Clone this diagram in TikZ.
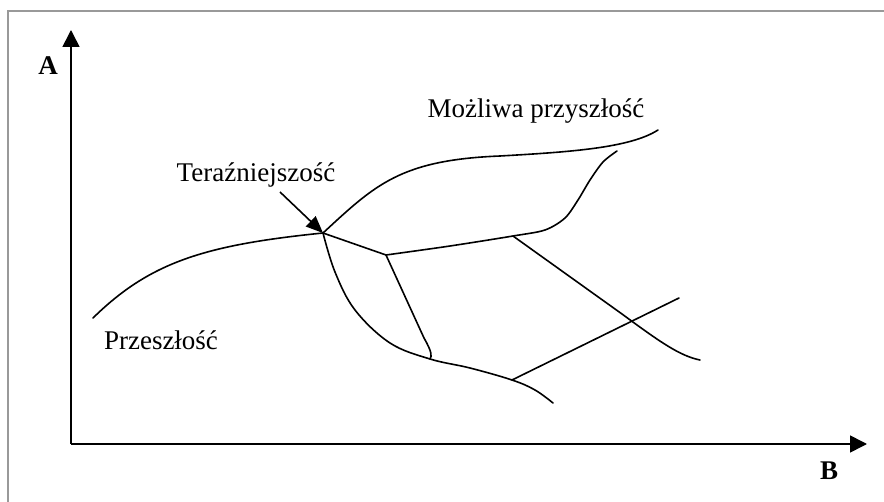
\documentclass[tikz,border=0pt]{standalone}
\usepackage{fontspec}
\setmainfont{Liberation Serif}
\usetikzlibrary{arrows.meta}
\begin{document}
\begin{tikzpicture}[x=1pt,y=-1pt,
  curve/.style={line width=1.6pt,line join=round,line cap=round},
  axis/.style={line width=1.6pt,-{Triangle[length=17pt,width=17pt]}},
  lbl/.style={anchor=base,inner sep=0pt,font=\fontsize{27}{32}\selectfont},
  axlbl/.style={anchor=base,inner sep=0pt,font=\bfseries\fontsize{27}{32}\selectfont}]
  \useasboundingbox (0,0) rectangle (884,502);
  % page frame (top and left edges only)
  \draw[gray!80,line width=1.3pt] (8,502) -- (8,11) -- (884,11);

  % axes
  \coordinate (O) at (71,444);
  \coordinate (ytip) at (71,30);
  \coordinate (xtip) at (867,444);
  \draw[axis] (O) -- (ytip);
  \draw[axis] (O) -- (xtip);
  \node[axlbl] (A) at (48,75) {A};
  \node[axlbl] (B) at (829,480) {B};

  % branching points
  \coordinate (P) at (323,233);
  \coordinate (Q) at (386,255);
  \coordinate (R) at (513,236);
  \coordinate (S) at (512,380);
  \coordinate (T) at (430,359);

  % past
  \draw[curve] (93,318) .. controls (150,262) and (205,245) .. (P);
  % upper future branch
  \draw[curve] (P) .. controls (375,185) and (400,160) .. (500,156)
                   .. controls (570,152) and (630,148) .. (658,130);
  % lower branch
  \draw[curve] plot[smooth,tension=0.6] coordinates
    {(P) (335,272) (355,310) (390,343) (T) (470,368) (S) (535,390) (553,403)};
  % middle branch
  \draw[curve] (P) -- (Q);
  \draw[curve] plot[smooth,tension=0.5] coordinates
    {(Q) (450,246) (R) (545,230) (565,218) (578,200) (590,180) (603,162) (617,151)};
  \draw[curve] (Q) -- (424,338) .. controls (432,352) and (432,356) .. (T);
  % crossing lines
  \draw[curve] (R) -- (622,314) .. controls (660,342) and (680,356) .. (700,360);
  \coordinate (Send) at (679,298);
  \draw[curve] (S) -- (Send);

  % labels
  \node[lbl] (past) at (161,350) {Przeszłość};
  \node[lbl] (now) at (256,182) {Teraźniejszość};
  \node[lbl] (future) at (536,118) {Możliwa przyszłość};
  \coordinate (arrstart) at (280,192);
  \draw[line width=1.6pt,-{Triangle[length=17pt,width=14pt]}] (arrstart) -- (P);
\end{tikzpicture}
\end{document}
